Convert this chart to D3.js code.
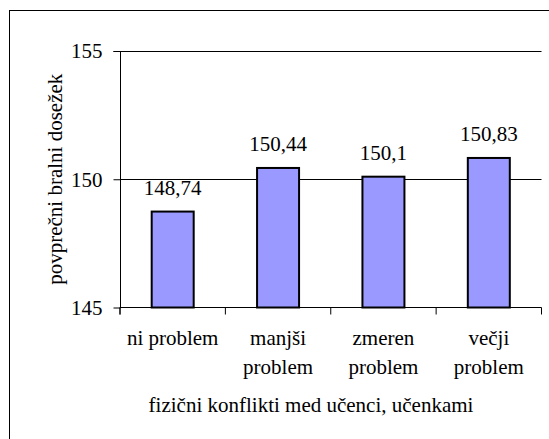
<!DOCTYPE html>
<html>
<head>
<meta charset="utf-8">
<script src="https://cdn.jsdelivr.net/npm/d3@7/dist/d3.min.js"></script>
</head>
<body style="margin:0;background:#fff">
<svg id="chart" width="549" height="439" font-family="Liberation Serif" style="display:block">
  <text id="xtitle" x="311" y="412" text-anchor="middle" font-size="21" font-family="Liberation Serif">fizični konflikti med učenci, učenkami</text>
</svg>
<script>
// Average reading score by level of physical conflict among pupils
const categories = ["ni problem", "manjši problem", "zmeren problem", "večji problem"];
const categoryLines = [["ni problem"], ["manjši", "problem"], ["zmeren", "problem"], ["večji", "problem"]];
const values = [148.74, 150.44, 150.1, 150.83];
const valueLabels = ["148,74", "150,44", "150,1", "150,83"];
const yTicks = [145, 150, 155];
const yTitle = "povprečni bralni dosežek";

const fontSize = 21;
const serif = "Liberation Serif";
if (document.fonts && document.fonts.load) document.fonts.load(fontSize + "px 'Liberation Serif'");

const svg = d3.select("#chart");

// outer frame
svg.insert("rect", ":first-child")
  .attr("x", 9.5).attr("y", 10.5)
  .attr("width", 560).attr("height", 460)
  .attr("fill", "none").attr("stroke", "#000").attr("stroke-width", 1);

const plot = { left: 120, right: 541.5, top: 51, bottom: 307.5 };

const xOuter = d3.scaleBand()
  .domain(categories)
  .range([plot.left, plot.right]);

const y = d3.scaleLinear()
  .domain([145, 155])
  .range([plot.bottom, plot.top]);

// horizontal gridlines
svg.append("g")
  .selectAll("line")
  .data(yTicks.filter(t => t > 145))
  .join("line")
  .attr("x1", plot.left).attr("x2", plot.right)
  .attr("y1", d => Math.round(y(d)) + 0.5).attr("y2", d => Math.round(y(d)) + 0.5)
  .attr("stroke", "#000").attr("stroke-width", 1);

// bars
svg.append("g")
  .selectAll("rect")
  .data(values)
  .join("rect")
  .attr("x", (d, i) => xOuter(categories[i]) + xOuter.bandwidth() / 2 - 21)
  .attr("width", 42)
  .attr("y", d => y(d))
  .attr("height", d => plot.bottom - y(d))
  .attr("fill", "#9999ff")
  .attr("stroke", "#000")
  .attr("stroke-width", 2);

// value labels
svg.append("g")
  .selectAll("text")
  .data(values)
  .join("text")
  .attr("x", (d, i) => xOuter(categories[i]) + xOuter.bandwidth() / 2)
  .attr("y", d => y(d) - 17)
  .attr("text-anchor", "middle")
  .attr("font-family", serif)
  .attr("font-size", fontSize)
  .text((d, i) => valueLabels[i]);

// y axis
const yAxis = d3.axisLeft(y).tickValues(yTicks).tickSize(7).tickPadding(11).tickFormat(d3.format("d"));
const gy = svg.append("g")
  .attr("transform", `translate(${plot.left + 0.5},0)`)
  .call(yAxis)
  .attr("font-family", serif)
  .attr("font-size", fontSize);
gy.selectAll("text").attr("dy", "0.33em");
gy.select(".domain").attr("d", `M-7,${plot.top + 0.5}H0V${plot.bottom}`);

// x axis
const xAxis = d3.axisBottom(xOuter).tickSize(7).tickFormat("");
const gx = svg.append("g")
  .attr("transform", `translate(0,${plot.bottom})`)
  .call(xAxis);
gx.select(".domain").attr("d", `M${plot.left},7V0H${plot.right}V7`);
gx.selectAll(".tick line").attr("transform", `translate(${-xOuter.bandwidth() / 2},0)`);

// category labels
const catG = svg.append("g").attr("font-family", serif).attr("font-size", fontSize);
categoryLines.forEach((lines, i) => {
  const cx = xOuter(categories[i]) + xOuter.bandwidth() / 2;
  const t = catG.append("text")
    .attr("x", cx)
    .attr("y", 345)
    .attr("text-anchor", "middle");
  lines.forEach((ln, j) => {
    t.append("tspan")
      .attr("x", cx)
      .attr("dy", j === 0 ? 0 : 28.5)
      .text(ln);
  });
});

// y axis title
svg.append("text")
  .attr("transform", `translate(62,${(plot.top + plot.bottom) / 2}) rotate(-90)`)
  .attr("text-anchor", "middle")
  .attr("font-family", serif)
  .attr("font-size", fontSize)
  .text(yTitle);
</script>
</body>
</html>
